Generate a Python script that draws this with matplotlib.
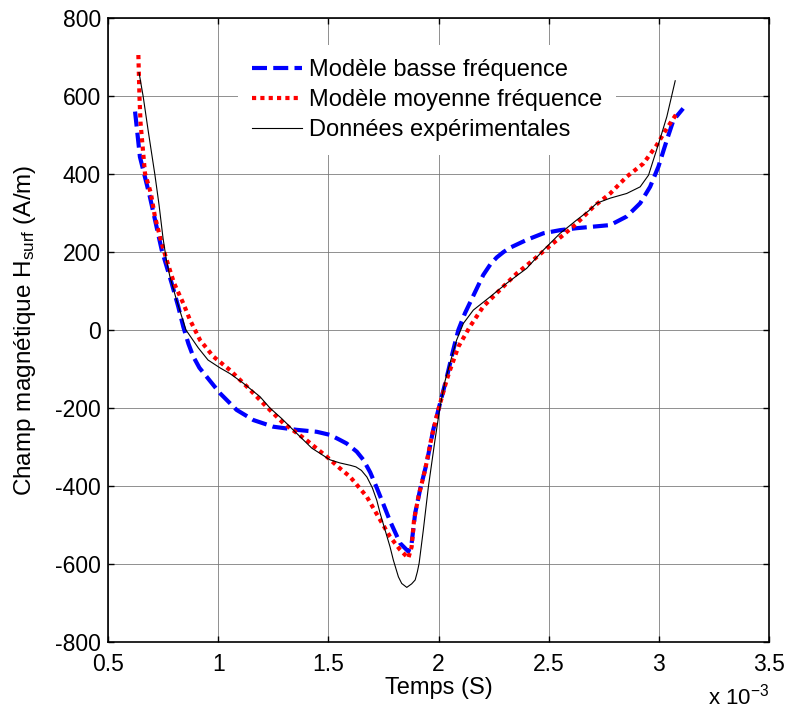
import numpy as np
import matplotlib
matplotlib.use("Agg")
import matplotlib.pyplot as plt
from matplotlib.ticker import FuncFormatter, MultipleLocator

plt.rcParams['font.family'] = ['Liberation Sans', 'DejaVu Sans']
plt.rcParams['axes.unicode_minus'] = False
plt.rcParams['mathtext.fontset'] = 'custom'
plt.rcParams['mathtext.rm'] = 'Liberation Sans'
plt.rcParams['mathtext.it'] = 'Liberation Sans'

# Time in milliseconds, field in A/m
t_bf = [0.623, 0.645, 0.69, 0.744, 0.789, 0.819, 0.842, 0.865, 0.887, 0.915,
        0.948, 1.008, 1.084, 1.16, 1.25, 1.356, 1.447, 1.508, 1.553, 1.583,
        1.629, 1.659, 1.69, 1.72, 1.75, 1.78, 1.826, 1.863, 1.878, 1.894,
        1.916, 1.946, 1.976, 2.007, 2.037, 2.067, 2.09, 2.12, 2.158, 2.203,
        2.235, 2.264, 2.295, 2.325, 2.4, 2.476, 2.552, 2.627, 2.703, 2.779,
        2.854, 2.915, 2.96, 2.998, 3.036, 3.066, 3.11]
h_bf = [560, 444, 342, 205, 120, 60, 8, -35, -68, -97,
        -120, -162, -205, -231, -248, -256, -261, -269, -282, -291,
        -312, -333, -365, -405, -447, -490, -547, -568, -547, -470,
        -410, -342, -256, -188, -122, -51, 0, 43, 88, 141,
        168, 186, 200, 211, 231, 248, 256, 261, 265, 269,
        291, 325, 367, 419, 487, 538, 568]

t_mf = [0.638, 0.643, 0.648, 0.668, 0.695, 0.713, 0.74, 0.766, 0.80, 0.842,
        0.872, 0.918, 0.978, 1.054, 1.13, 1.22, 1.296, 1.4, 1.493, 1.553,
        1.598, 1.674, 1.735, 1.78, 1.826, 1.863, 1.878, 1.889, 1.909, 1.939,
        1.969, 2.0, 2.037, 2.052, 2.09, 2.143, 2.203, 2.279, 2.355, 2.431,
        2.491, 2.567, 2.627, 2.703, 2.779, 2.854, 2.93, 2.99, 3.036, 3.081]
h_mf = [705, 598, 530, 402, 350, 291, 230, 180, 120, 68,
        26, -26, -68, -103, -145, -197, -239, -282, -325, -355,
        -376, -427, -487, -530, -564, -585, -556, -487, -427, -359,
        -274, -203, -128, -103, -43, 9, 60, 103, 145, 180,
        209, 244, 273, 316, 350, 393, 427, 474, 517, 555]

t_exp = [0.641, 0.66, 0.682, 0.713, 0.732, 0.75, 0.765, 0.781, 0.811, 0.854,
         0.91, 0.954, 1.008, 1.054, 1.113, 1.19, 1.235, 1.29, 1.34, 1.425,
         1.508, 1.553, 1.60, 1.625, 1.65, 1.675, 1.70, 1.72, 1.735, 1.78,
         1.795, 1.818, 1.833, 1.856, 1.878, 1.894, 1.904, 1.912, 1.931, 1.954,
         1.984, 2.007, 2.03, 2.052, 2.082, 2.113, 2.158, 2.234, 2.31, 2.4,
         2.476, 2.552, 2.59, 2.627, 2.68, 2.718, 2.779, 2.854, 2.915, 2.953,
         2.975, 3.006, 3.036, 3.074]
h_exp = [660, 598, 513, 398, 320, 235, 180, 137, 77, 0,
         -46, -77, -97, -112, -136, -171, -200, -228, -256, -303,
         -333, -341, -347, -351, -360, -377, -405, -437, -470, -556,
         -590, -633, -650, -660, -651, -641, -620, -598, -513, -402,
         -282, -197, -130, -85, -26, 17, 51, 85, 120, 158,
         205, 248, 265, 282, 305, 325, 338, 350, 367, 397,
         436, 491, 547, 639]

labels = ["Modèle basse fréquence", "Modèle moyenne fréquence",
          "Données expérimentales"]

fig = plt.figure(figsize=(7.88, 7.13), dpi=100)
ax = fig.add_axes([0.137, 0.0996, 0.839, 0.8752])

to_s = lambda v: np.asarray(v) * 1e-3

ax.plot(to_s(t_bf), h_bf, color='#0000ff', lw=3.0, linestyle=(0, (3.6, 1.5)),
        dash_capstyle='butt', label=labels[0], zorder=3)
ax.plot(to_s(t_mf), h_mf, color='#ff0000', lw=3.0, linestyle=(0, (1.0, 1.0)),
        dash_capstyle='butt', label=labels[1], zorder=4)
ax.plot(to_s(t_exp), h_exp, color='black', lw=0.8, label=labels[2], zorder=5)

ax.set_xlim(0.5e-3, 3.5e-3)
ax.set_ylim(-800, 800)
ax.xaxis.set_major_locator(MultipleLocator(0.5e-3))
ax.yaxis.set_major_locator(MultipleLocator(200))
ax.xaxis.set_major_formatter(FuncFormatter(lambda v, p: f"{v * 1e3:g}"))
ax.yaxis.set_major_formatter(FuncFormatter(lambda v, p: f"{v:.0f}"))

ax.grid(True, color='0.45', lw=0.7, alpha=0.8)
ax.set_axisbelow(True)
ax.tick_params(direction='in', top=True, right=True, length=4, width=1,
               labelsize=16.5, colors='black')
ax.tick_params(axis='x', pad=8)
ax.tick_params(axis='y', pad=5)
for s in ax.spines.values():
    s.set_linewidth(1.2)

ax.set_xlabel("Temps (S)", fontsize=17, labelpad=1)
ax.set_ylabel("Champ magnétique H$_{\\mathrm{surf}}$ (A/m)", fontsize=17.5,
              labelpad=12)
ax.text(769 / 788, 1 - 705 / 713, "x 10$^{\\mathrm{-3}}$",
        transform=fig.transFigure, ha='right', va='baseline', fontsize=16)

leg = ax.legend(loc='upper left', bbox_to_anchor=(0.197, 0.957),
                borderaxespad=0, borderpad=0.6, fontsize=17,
                handlelength=2.1, handletextpad=0.3, labelspacing=0.34,
                frameon=True, fancybox=False, framealpha=1,
                facecolor='white', edgecolor='none')

fig.savefig("out.png", dpi=100)
